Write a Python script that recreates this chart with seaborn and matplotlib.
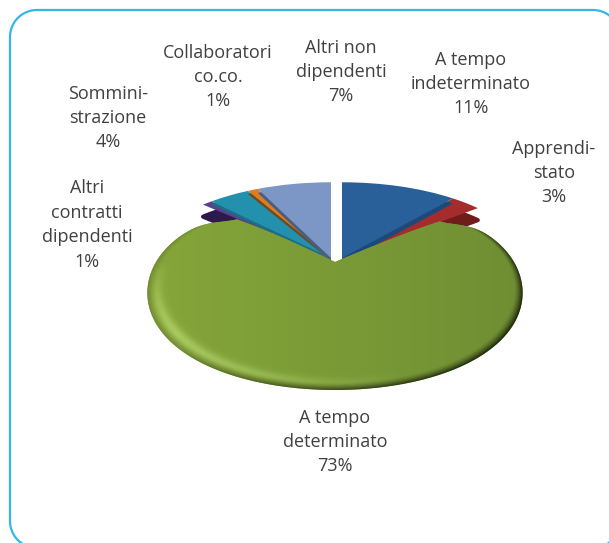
import numpy as np
import matplotlib
matplotlib.use("Agg")
import matplotlib.pyplot as plt
from matplotlib.path import Path
from matplotlib.transforms import Transform, Affine2D
import seaborn as sns

categories = ["A tempo\nindeterminato", "Apprendi-\nstato", "A tempo\ndeterminato",
              "Altri\ncontratti\ndipendenti", "Sommini-\nstrazione",
              "Collaboratori\nco.co.", "Altri non\ndipendenti"]
values = [11, 3, 73, 1, 4, 1, 7]
pct_labels = ["11%", "3%", "73%", "1%", "4%", "1%", "7%"]
colors = ["#2a6099", "#a52c2c", "#7f9e37", "#5f3f8c", "#2390ad", "#e07b22", "#7c97c6"]
dark_colors = ["#1b4a7a", "#6e1c1c", "#5c7527", "#2c1a4c", "#1a6f86", "#6d4a20", "#4a5f80"]
label_xy = [(471, 84), (554, 173), (335, 442), (87, 225), (108, 118), (218, 77), (341, 72)]

# green face mapping numbers
GA, GB, GK, GP = 92.0, 36.0, 179.0, 0.30
CORNERS = np.array([50.4, 313.2])


class BackFace(Transform):
    # slices at the back of the pie, seen flat
    input_dims = 2
    output_dims = 2
    is_affine = False

    def transform_non_affine(self, xy):
        xy = np.asarray(xy)
        w = 1 + 0.096 * xy[:, 1]
        return np.column_stack([335 + 187 * xy[:, 0] / w, 258 - 83 * xy[:, 1] / w])


class FrontFace(Transform):
    # big slice: bulging edges, rounded corners
    input_dims = 2
    output_dims = 2
    is_affine = False

    def transform_non_affine(self, xy):
        xy = np.asarray(xy)
        r = np.hypot(xy[:, 0], xy[:, 1])
        ang = np.degrees(np.arctan2(xy[:, 0], xy[:, 1])) % 360
        d = np.min(np.abs(ang[:, None] - CORNERS), axis=1)
        f = 1 - 0.11 * np.exp(-(d / 9.0) ** 2) * r ** 3
        x, y = xy[:, 0] * f, xy[:, 1] * f
        return np.column_stack([335 + GK * x / (1 + GP * y), 262 - (GA * y - GB * y ** 2)])

    def transform_path_non_affine(self, path):
        # sample the wedge finely so straight edges bend too
        pts = []
        for seg, code in path.iter_bezier():
            if code == Path.MOVETO:
                continue
            pts.append(seg(np.linspace(0, 1, 40)))
        return Path(self.transform_non_affine(np.vstack(pts)))


sns.set_theme(style="white")
plt.rcParams["font.family"] = ["Open Sans", "DejaVu Sans"]

fig = plt.figure(figsize=(6.09, 5.43), dpi=100)
ax = fig.add_axes([0, 0, 1, 1])

dark, _ = ax.pie(values, colors=dark_colors, startangle=90, counterclock=False, normalize=True)
top, _ = ax.pie(values, colors=colors, startangle=90, counterclock=False, normalize=True)
ax.set_aspect("auto")
ax.axis("off")

# widen the two deep sides so they stay joined to their faces once shifted down
dark[1].set_theta2(dark[1].theta2 + 7)
dark[3].set_theta1(dark[3].theta1 - 8)

back = BackFace()
z = 2
# painter's order, with (x shift, side depth)
for i, dx, depth in [(1, 7, 12), (0, 7, 5), (3, -4, 12), (4, -4, 3), (5, -4, 3), (6, -4, 4)]:
    dark[i].set_transform(back + Affine2D().translate(dx, depth) + ax.transData)
    dark[i].set_zorder(z)
    dark[i].set_edgecolor(dark_colors[i])
    dark[i].set_linewidth(3 if depth > 5 else 0)
    dark[i].set_joinstyle("round")
    top[i].set_transform(back + Affine2D().translate(dx, 0) + ax.transData)
    top[i].set_zorder(z + 1)
    top[i].set_linewidth(0)
    z += 2

dark[2].set_visible(False)
top[2].set_transform(FrontFace() + ax.transData)
top[2].set_zorder(20)
top[2].set_linewidth(0)

# green face shading: lighter on the left, thin dark rim lower right
gx, gy = np.meshgrid(np.arange(130, 540), np.arange(190, 400))
up = np.clip(262.0 - gy, -200, 58)
uy = (GA - np.sqrt(GA ** 2 - 4 * GB * up)) / (2 * GB)
ux = (gx - 335) * (1 + GP * uy) / GK
r = np.hypot(ux, uy)
left_c = np.array([0x86, 0xa6, 0x3a]) / 255
right_c = np.array([0x6f, 0x8e, 0x33]) / 255
t_h = np.clip((gx - 147) / 377, 0, 1)[..., None]
img = left_c * (1 - t_h) + right_c * t_h
# highlight band lower left
band = np.exp(-((r - 0.955) / 0.03) ** 2) * np.clip(-ux - uy * 0.3, 0, 1) * np.clip(-uy * 1.6, 0, 1)
img = img + band[..., None] * 0.16
rim = np.clip((r - 0.955) / 0.045, 0, 1)[..., None] ** 1.5
side = np.clip(0.45 + 0.55 * (ux - uy * 0.3), 0.2, 1)[..., None]
img = np.clip(img * (1 - rim * side * 0.8), 0, 1)
im = ax.imshow(img, extent=(129.5, 539.5, 399.5, 189.5), zorder=21, aspect="auto")
im.set_clip_path(top[2])
ax.set_xlim(0, 609)
ax.set_ylim(543, 0)

for name, pct, (x, y) in zip(categories, pct_labels, label_xy):
    ax.text(x, y, name + "\n" + pct, ha="center", va="center", fontsize=13,
            color="#404040", linespacing=1.46, zorder=30)

# panel outline runs past the right and bottom of the picture
arc = np.linspace(0, np.pi / 2, 30)
fx = np.r_[37 - 27 * np.cos(arc), 593 + 27 * np.sin(arc), 620 - 27 * (1 - np.cos(arc)), 37 - 27 * np.sin(arc), 10]
fy = np.r_[37 - 27 * np.sin(arc), 37 - 27 * np.cos(arc), 521 + 27 * np.sin(arc), 521 + 27 * np.cos(arc), 37]
ax.plot(fx, fy, color="#35b6ea", lw=1.6, zorder=31, clip_on=True)

fig.savefig("out.png", dpi=100)
